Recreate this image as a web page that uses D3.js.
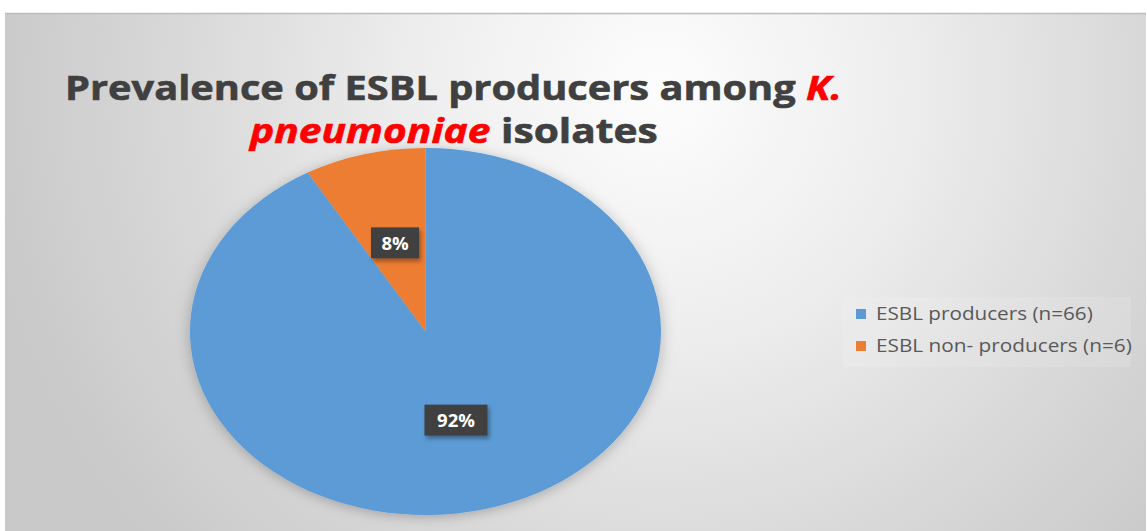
<!DOCTYPE html>
<html>
<head>
<meta charset="utf-8">
<script src="https://cdn.jsdelivr.net/npm/d3@7/dist/d3.min.js"></script>
<style>
  html, body { margin: 0; padding: 0; background: #ffffff; }
  svg { display: block; }
</style>
</head>
<body>
<svg id="chart" width="1147" height="531"></svg>
<script>
// ---- data ----
const categories = ["ESBL producers (n=66)", "ESBL non- producers (n=6)"];
const values = [66, 6];
const colors = ["#5B9BD5", "#ED7D31"];
const titleLine1 = [["Prevalence of ESBL producers among ", false], ["K.", true]];
const titleLine2 = [["pneumoniae", true], [" isolates", false]];

const svg = d3.select("#chart");
const W = 1147, H = 531;

// ---- background ----
const defs = svg.append("defs");
const grad = defs.append("radialGradient")
  .attr("id", "bg").attr("gradientUnits", "userSpaceOnUse")
  .attr("cx", 660).attr("cy", 90).attr("r", 680)
  .attr("fx", 660).attr("fy", 90);
grad.append("stop").attr("offset", 0).attr("stop-color", "#fdfdfd");
grad.append("stop").attr("offset", 0.35).attr("stop-color", "#eeeeee");
grad.append("stop").attr("offset", 0.75).attr("stop-color", "#d6d6d6");
grad.append("stop").attr("offset", 1).attr("stop-color", "#c9c9c9");

const shadow = defs.append("filter").attr("id", "shadow")
  .attr("x", "-20%").attr("y", "-20%").attr("width", "140%").attr("height", "140%");
shadow.append("feDropShadow").attr("dx", 0).attr("dy", 2).attr("stdDeviation", 6)
  .attr("flood-color", "#000").attr("flood-opacity", 0.25);
const lblShadow = defs.append("filter").attr("id", "lblshadow")
  .attr("x", "-30%").attr("y", "-30%").attr("width", "170%").attr("height", "170%");
lblShadow.append("feDropShadow").attr("dx", 2).attr("dy", 3).attr("stdDeviation", 2)
  .attr("flood-color", "#000").attr("flood-opacity", 0.35);

svg.append("rect").attr("x", 5).attr("y", 13).attr("width", W - 6).attr("height", H - 13)
  .attr("fill", "url(#bg)");
svg.append("line").attr("x1", 5).attr("x2", W - 1).attr("y1", 13.5).attr("y2", 13.5)
  .attr("stroke", "#bdbdbd").attr("stroke-width", 1.5);

// ---- title ----
function fitLine(parts, x, y, targetW) {
  const t = svg.append("text")
    .attr("font-family", "'Open Sans', sans-serif")
    .attr("font-weight", 700).attr("font-size", 34.5)
    .attr("fill", "#404040");
  parts.forEach(([s, red]) => {
    const c = red ? "#ff0000" : "#404040";
    t.append("tspan").text(s)
      .attr("fill", c).attr("stroke", c).attr("stroke-width", 0.6)
      .attr("font-style", red ? "italic" : "normal")
      .style("white-space", "pre");
  });
  t.attr("xml:space", "preserve");
  const w = t.node().getComputedTextLength();
  t.attr("transform", `translate(${x},${y}) scale(${targetW / w},1)`);
}
fitLine(titleLine1, 65, 100, 777);
fitLine(titleLine2, 250, 143, 408);

// ---- pie (ellipse: stretched horizontally) ----
const cx = 425.5, cy = 331.5, ry = 183.5, rx = 235.5;
const pie = d3.pie().sort(null).value(d => d)(values);
const arc = d3.arc().innerRadius(0).outerRadius(ry);
const total = d3.sum(values);

const pg = svg.append("g")
  .attr("transform", `translate(${cx},${cy}) scale(${rx / ry},1)`);
pg.append("g").attr("filter", "url(#shadow)")
  .selectAll("path").data(pie).join("path")
  .attr("d", arc)
  .attr("fill", (d, i) => colors[i]);

// ---- data labels ----
const labelArc = d3.arc().innerRadius(ry * 0.5).outerRadius(ry * 0.5);
const boxW = [63, 48];
pie.forEach((d, i) => {
  const [lx, ly] = labelArc.centroid(d);
  const px = cx + lx * rx / ry, py = cy + ly;
  const lg = svg.append("g").attr("transform", `translate(${px},${py})`);
  lg.append("rect").attr("x", -boxW[i] / 2).attr("y", -15.5)
    .attr("width", boxW[i]).attr("height", 31)
    .attr("fill", "#404040").attr("filter", "url(#lblshadow)");
  lg.append("text").text(Math.round(d.value / total * 100) + "%")
    .attr("text-anchor", "middle").attr("y", 7)
    .attr("font-family", "'Open Sans', sans-serif").attr("font-weight", 700)
    .attr("font-size", 18.5).attr("fill", "#ffffff");
});

// ---- legend ----
svg.append("rect").attr("x", 843).attr("y", 297).attr("width", 288).attr("height", 70)
  .attr("fill", "#ffffff").attr("opacity", 0.12);
const legTargets = [217, 256];
categories.forEach((c, i) => {
  const y = 320 + i * 32;
  svg.append("rect").attr("x", 856).attr("y", y - 11).attr("width", 10).attr("height", 10)
    .attr("fill", colors[i]);
  const t = svg.append("text").text(c)
    .attr("font-family", "'Open Sans', sans-serif").attr("font-size", 18)
    .attr("fill", "#595959");
  const w = t.node().getComputedTextLength();
  t.attr("transform", `translate(876,${y}) scale(${legTargets[i] / w},1)`);
});
</script>
</body>
</html>
